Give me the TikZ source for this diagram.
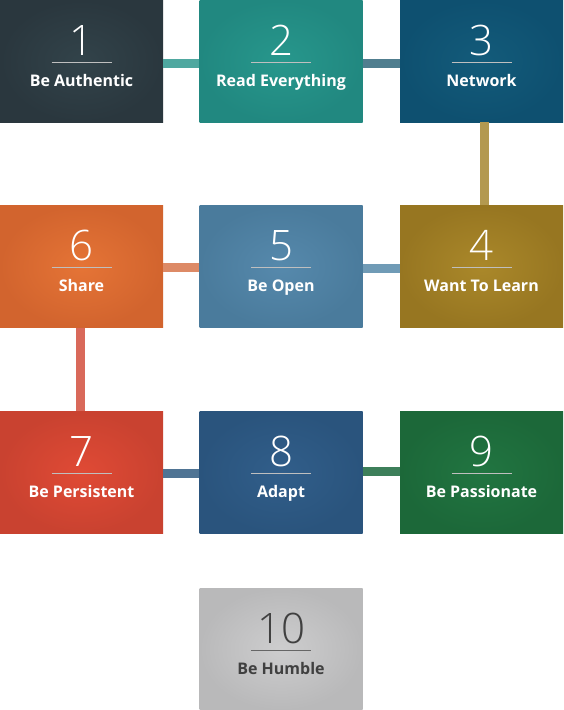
\documentclass[tikz,border=0pt]{standalone}
\usepackage{fontspec}
\setmainfont{Open Sans}
\newfontfamily\numfont{Open Sans Light}
\usepackage{xcolor}
\usetikzlibrary{positioning,calc}

\definecolor{cA}{HTML}{32434A}\definecolor{cAo}{HTML}{2A373E}
\definecolor{cB}{HTML}{27978C}\definecolor{cBo}{HTML}{218880}
\definecolor{cC}{HTML}{135B7A}\definecolor{cCo}{HTML}{0E5070}
\definecolor{cD}{HTML}{AA882A}\definecolor{cDo}{HTML}{977621}
\definecolor{cE}{HTML}{5689AC}\definecolor{cEo}{HTML}{4A7B9C}
\definecolor{cF}{HTML}{E57436}\definecolor{cFo}{HTML}{D2642E}
\definecolor{cG}{HTML}{E04A35}\definecolor{cGo}{HTML}{C94230}
\definecolor{cH}{HTML}{315E8A}\definecolor{cHo}{HTML}{2A547D}
\definecolor{cI}{HTML}{217541}\definecolor{cIo}{HTML}{1C6839}
\definecolor{cJ}{HTML}{CDCDCE}\definecolor{cJo}{HTML}{B9B9BA}

\begin{document}
\begin{tikzpicture}[
  x=1pt, y=-1pt,
  stepbox/.style={rectangle, minimum width=163pt, minimum height=122pt,
                  inner sep=0pt},
  numText/.style={font=\numfont\fontsize{42}{42}\selectfont, text=white,
                  anchor=base, inner sep=0pt},
  tagText/.style={font=\bfseries\fontsize{16}{18}\selectfont, text=white,
                  anchor=base, inner sep=0pt},
  rule/.style={draw=white!75!black, line width=1pt},
  link/.style={line width=9pt}
]
  \fill[white] (0,0) rectangle (563,710);
  \useasboundingbox (0,0) rectangle (563,710);

  % tiles
  \node[stepbox, inner color=cA, outer color=cAo] (t1) at (81.5,61) {};
  \node[stepbox, inner color=cB, outer color=cBo] (t2) at (281,61) {};
  \node[stepbox, inner color=cC, outer color=cCo] (t3) at (481.5,61) {};
  \node[stepbox, inner color=cD, outer color=cDo] (t4) at (481.5,266.5) {};
  \node[stepbox, inner color=cE, outer color=cEo] (t5) at (281,266.5) {};
  \node[stepbox, inner color=cF, outer color=cFo] (t6) at (81.5,266.5) {};
  \node[stepbox, inner color=cG, outer color=cGo] (t7) at (81.5,472.5) {};
  \node[stepbox, inner color=cH, outer color=cHo] (t8) at (281,472.5) {};
  \node[stepbox, inner color=cI, outer color=cIo] (t9) at (481.5,472.5) {};
  \node[stepbox, inner color=cJ, outer color=cJo] (t10) at (281,649) {};

  % links
  \draw[link, color={rgb,255:red,79;green,168;blue,160}]
    ([yshift=-2pt]t1.east) -- ([yshift=-2pt]t2.west);
  \draw[link, color={rgb,255:red,80;green,126;blue,143}]
    ([yshift=-2pt]t2.east) -- ([yshift=-2pt]t3.west);
  \draw[link, color={rgb,255:red,179;green,153;blue,80}]
    ([xshift=3pt]t3.south) -- ([xshift=3pt]t4.north);
  \draw[link, color={rgb,255:red,112;green,155;blue,182}]
    ([yshift=-2pt]t4.west) -- ([yshift=-2pt]t5.east);
  \draw[link, color={rgb,255:red,221;green,138;blue,102}]
    ([yshift=-1pt]t5.west) -- ([yshift=-1pt]t6.east);
  \draw[link, color={rgb,255:red,217;green,105;blue,90}]
    ([xshift=-1.5pt]t6.south) -- ([xshift=-1.5pt]t7.north);
  \draw[link, color={rgb,255:red,79;green,116;blue,148}]
    ([yshift=-0.5pt]t7.east) -- ([yshift=-0.5pt]t8.west);
  \draw[link, color={rgb,255:red,61;green,127;blue,90}]
    ([yshift=1.5pt]t8.east) -- ([yshift=1.5pt]t9.west);

  % numbers, rules and captions
  \node[numText] (n1) at ([yshift=6pt]t1.center) {1};
  \draw[rule] ([xshift=-30pt,yshift=-1pt]t1.center) -- ([xshift=30pt,yshift=-1pt]t1.center);
  \node[tagText] (c1) at ([yshift=-25pt]t1.center) {Be Authentic};

  \node[numText] (n2) at ([yshift=6pt]t2.center) {2};
  \draw[rule] ([xshift=-30pt,yshift=-1pt]t2.center) -- ([xshift=30pt,yshift=-1pt]t2.center);
  \node[tagText] (c2) at ([yshift=-25pt]t2.center) {Read Everything};

  \node[numText] (n3) at ([yshift=6pt]t3.center) {3};
  \draw[rule] ([xshift=-30pt,yshift=-1pt]t3.center) -- ([xshift=30pt,yshift=-1pt]t3.center);
  \node[tagText] (c3) at ([yshift=-25pt]t3.center) {Network};

  \node[numText] (n4) at ([yshift=6pt]t4.center) {4};
  \draw[rule] ([xshift=-30pt,yshift=-1pt]t4.center) -- ([xshift=30pt,yshift=-1pt]t4.center);
  \node[tagText] (c4) at ([yshift=-25pt]t4.center) {Want To Learn};

  \node[numText] (n5) at ([yshift=6pt]t5.center) {5};
  \draw[rule] ([xshift=-30pt,yshift=-1pt]t5.center) -- ([xshift=30pt,yshift=-1pt]t5.center);
  \node[tagText] (c5) at ([yshift=-25pt]t5.center) {Be Open};

  \node[numText] (n6) at ([yshift=6pt]t6.center) {6};
  \draw[rule] ([xshift=-30pt,yshift=-1pt]t6.center) -- ([xshift=30pt,yshift=-1pt]t6.center);
  \node[tagText] (c6) at ([yshift=-25pt]t6.center) {Share};

  \node[numText] (n7) at ([yshift=6pt]t7.center) {7};
  \draw[rule] ([xshift=-30pt,yshift=-1pt]t7.center) -- ([xshift=30pt,yshift=-1pt]t7.center);
  \node[tagText] (c7) at ([yshift=-25pt]t7.center) {Be Persistent};

  \node[numText] (n8) at ([yshift=6pt]t8.center) {8};
  \draw[rule] ([xshift=-30pt,yshift=-1pt]t8.center) -- ([xshift=30pt,yshift=-1pt]t8.center);
  \node[tagText] (c8) at ([yshift=-25pt]t8.center) {Adapt};

  \node[numText] (n9) at ([yshift=6pt]t9.center) {9};
  \draw[rule] ([xshift=-30pt,yshift=-1pt]t9.center) -- ([xshift=30pt,yshift=-1pt]t9.center);
  \node[tagText] (c9) at ([yshift=-25pt]t9.center) {Be Passionate};

  \node[numText, text=black!75] (n10) at ([yshift=6pt]t10.center) {10};
  \draw[rule, draw=black!60] ([xshift=-30pt,yshift=-1pt]t10.center) -- ([xshift=30pt,yshift=-1pt]t10.center);
  \node[tagText, text=black!75] (c10) at ([yshift=-25pt]t10.center) {Be Humble};
\end{tikzpicture}
\end{document}
